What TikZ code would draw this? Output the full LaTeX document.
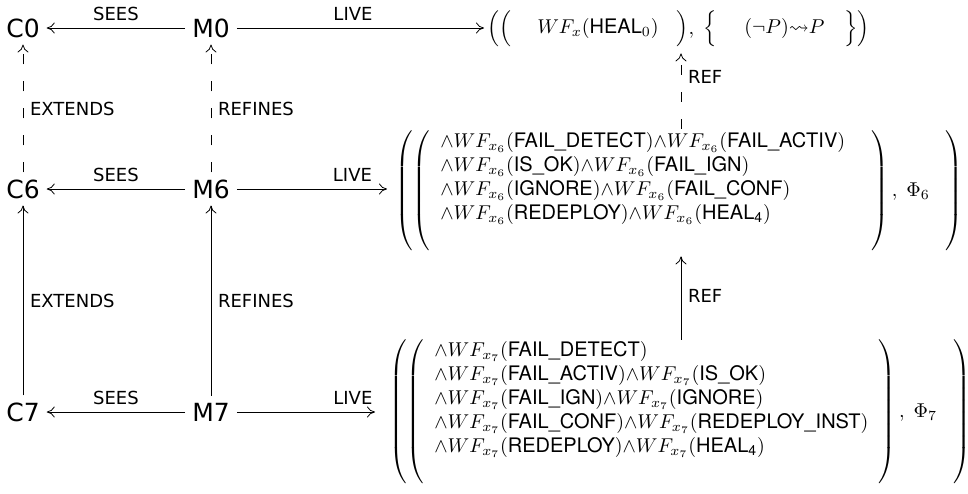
\documentclass[tikz,border=0pt]{standalone}
\usepackage{amssymb}
\usepackage{fontspec}
\setsansfont{TeX Gyre Heros}
\newfontfamily\labfont{DejaVu Sans}
\usetikzlibrary{arrows.meta}

\newcommand{\wfs}[2]{{\wedge}WF_{x_{#1}}(\textsf{#2})}

\begin{document}
\begin{tikzpicture}[x=0.5pt, y=-0.5pt, >={To[length=4pt,width=5.5pt]},
    mnode/.style={font=\labfont\fontsize{12.5}{15}\selectfont},
    lab/.style={font=\labfont\fontsize{9}{11}\selectfont},
    form/.style={anchor=west, inner ysep=0pt},
    dsh/.style={dash pattern=on 5pt off 8.5pt}]
  \useasboundingbox (0,0) rectangle (968,493);
  \node[mnode] (c0) at (23,28)  {C0};   \node[mnode] (m0) at (211,28)  {M0};
  \node[mnode] (c6) at (23,189) {C6};   \node[mnode] (m6) at (211,189) {M6};
  \node[mnode] (c7) at (23,412) {C7};   \node[mnode] (m7) at (211,412) {M7};
  \node[form, inner xsep=1.5pt] (f0) at (484,29)
    {$\Big(\Big(\begin{array}{l}\hspace{8pt} WF_x(\textsf{HEAL}_0)\hspace{4pt} \end{array}\Big),\;
      \Big\{\begin{array}{l}\hspace{9pt}(\neg P){\leadsto}P\hspace{5pt} \end{array}\Big\}\Big)$};
  \node[form, inner xsep=4pt] (f6) at (387,191)
    {$\left(\left(\begin{array}{l}
      \wfs{6}{FAIL\_DETECT}\wfs{6}{FAIL\_ACTIV}\hspace{8pt}\\
      \wfs{6}{IS\_OK}\wfs{6}{FAIL\_IGN}\\
      \wfs{6}{IGNORE}\wfs{6}{FAIL\_CONF}\\
      \wfs{6}{REDEPLOY}\wfs{6}{HEAL\textsubscript{4}}\\
      {} \end{array}\right),\;\Phi_6\hspace{8pt}\right)$};
  \node[form, inner xsep=7pt] (f7) at (375,412)
    {$\left(\left(\begin{array}{l}
      \wfs{7}{FAIL\_DETECT}\\
      \wfs{7}{FAIL\_ACTIV}\wfs{7}{IS\_OK}\\
      \wfs{7}{FAIL\_IGN}\wfs{7}{IGNORE}\\
      \wfs{7}{FAIL\_CONF}\wfs{7}{REDEPLOY\_INST}\\
      \wfs{7}{REDEPLOY}\wfs{7}{HEAL\textsubscript{4}}\\
      {} \end{array}\right),\;\Phi_7\hspace{8pt}\right)$};
  % horizontal relations
  \draw[->] (m0) -- node[lab, above] {SEES} (c0);
  \draw[->] (m6) -- node[lab, above] {SEES} (c6);
  \draw[->] (m7) -- node[lab, above] {SEES} (c7);
  \draw[->] (m0) -- node[lab, above, pos=.47] {LIVE} (m0 -| f0.west);
  \draw[->] (m6) -- node[lab, above, pos=.77] {LIVE} (m6 -| f6.west);
  \draw[->] (m7) -- node[lab, above, pos=.84] {LIVE} (m7 -| f7.west);
  % vertical relations
  \draw[->, dsh] (c6) -- node[lab, right] {EXTENDS} (c0);
  \draw[->] (c7) -- node[lab, right] {EXTENDS} (c6);
  \draw[->, dsh] (m6) -- node[lab, right] {REFINES} (m0);
  \draw[->] (m7) -- node[lab, right] {REFINES} (m6);
  \coordinate (rx) at (681,0);
  \draw[->, dsh, shorten <=1pt, shorten >=3pt] (f6.north -| rx) -- node[lab, right, pos=.65] {REF} (f0.south -| rx);
  \draw[->, shorten >=2.5pt] (f7.north -| rx) -- node[lab, right] {REF} (f6.south -| rx);
\end{tikzpicture}
\end{document}
